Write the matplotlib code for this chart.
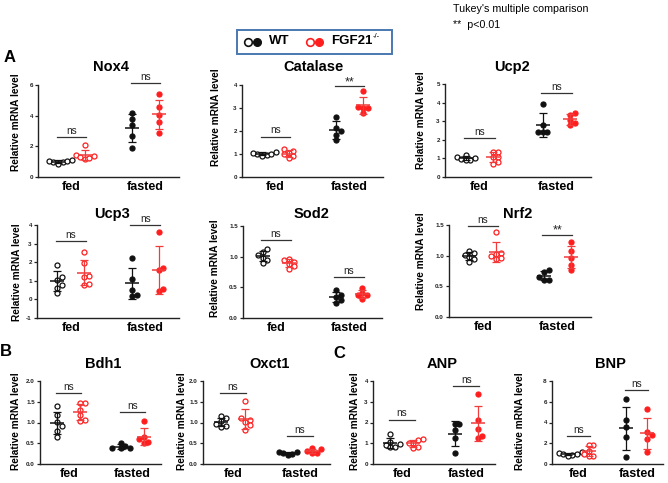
import numpy as np
import matplotlib.pyplot as plt
from matplotlib.patches import Rectangle

W, H = 668, 483
FONT = 'Liberation Sans'

# ---- data (relative mRNA level), fed = open circles, fasted = filled ----
nox4_wt_fed = [0.95, 1.0, 1.05, 1.1, 0.85, 1.05]
nox4_ko_fed = [2.1, 1.45, 1.3, 1.2, 1.25, 1.35]
nox4_wt_fasted = [4.15, 3.8, 3.4, 2.7, 1.9]
nox4_ko_fasted = [5.39, 4.59, 4.04, 3.61, 2.9]

cat_wt_fed = [0.95, 1.0, 1.02, 1.05, 1.1, 0.93]
cat_ko_fed = [1.2, 1.15, 1.05, 0.9, 0.82, 1.0]
cat_wt_fasted = [2.63, 2.12, 1.98, 1.83, 1.62]
cat_ko_fasted = [3.74, 3.05, 3.0, 3.0, 2.77]

ucp2_wt_fed = [1.2, 1.1, 1.0, 0.95, 0.9, 0.9]
ucp2_ko_fed = [1.35, 1.33, 1.1, 1.05, 0.8, 0.72]
ucp2_wt_fasted = [3.92, 2.79, 2.43, 2.43, 2.43]
ucp2_ko_fasted = [3.42, 3.33, 3.06, 2.88, 2.79]

ucp3_wt_fed = [1.86, 1.23, 1.05, 0.79, 0.61, 0.34]
ucp3_ko_fed = [2.55, 1.95, 1.25, 1.2, 0.8, 0.85]
ucp3_wt_fasted = [2.25, 1.1, 0.48, 0.25, 0.2]
ucp3_ko_fasted = [3.6, 1.71, 1.6, 0.55, 0.43]

sod2_wt_fed = [1.13, 1.07, 1.02, 0.98, 0.95, 0.9]
sod2_ko_fed = [0.96, 0.95, 0.92, 0.88, 0.84, 0.8]
sod2_wt_fasted = [0.46, 0.38, 0.34, 0.3, 0.25]
sod2_ko_fasted = [0.49, 0.41, 0.38, 0.38, 0.31]

nrf2_wt_fed = [1.07, 1.04, 1.01, 0.985, 0.94, 0.9]
nrf2_ko_fed = [1.38, 1.05, 1.03, 1.0, 0.97, 0.95]
nrf2_wt_fasted = [0.76, 0.74, 0.66, 0.61, 0.61]
nrf2_ko_fasted = [1.23, 1.08, 0.97, 0.85, 0.77]

bdh1_wt_fed = [1.4, 1.18, 1.02, 0.91, 0.8, 0.64]
bdh1_ko_fed = [1.47, 1.46, 1.3, 1.18, 1.06, 1.04]
bdh1_wt_fasted = [0.51, 0.43, 0.38, 0.38, 0.38]
bdh1_ko_fasted = [1.03, 0.66, 0.6, 0.52, 0.5]

oxct1_wt_fed = [1.15, 1.1, 1.03, 0.97, 0.92, 0.88]
oxct1_ko_fed = [1.51, 1.12, 1.07, 1.02, 0.94, 0.83]
oxct1_wt_fasted = [0.3, 0.28, 0.27, 0.25, 0.22]
oxct1_ko_fasted = [0.38, 0.35, 0.32, 0.26, 0.26]

anp_wt_fed = [1.44, 1.07, 0.96, 0.9, 0.8, 0.82]
anp_ko_fed = [1.2, 1.18, 1.02, 1.0, 0.83, 0.75]
anp_wt_fasted = [1.95, 1.95, 1.66, 1.23, 0.51]
anp_ko_fasted = [3.36, 2.1, 1.7, 1.35, 1.25]

bnp_wt_fed = [1.18, 1.02, 1.0, 0.96, 0.86, 0.77]
bnp_ko_fed = [1.85, 1.8, 1.3, 0.95, 0.8, 0.75]
bnp_wt_fasted = [6.24, 4.22, 3.52, 2.62, 0.64]
bnp_ko_fasted = [5.3, 3.1, 2.8, 2.4, 1.2]

categories = ['fed', 'fasted']

# significance: label and bar height for fed / fasted comparisons
nox4_sig, nox4_bar = ['ns', 'ns'], [2.6, 6.1]
cat_sig, cat_bar = ['ns', '**'], [1.76, 3.96]
ucp2_sig, ucp2_bar = ['ns', 'ns'], [2.07, 4.5]
ucp3_sig, ucp3_bar = ['ns', 'ns'], [3.16, 4.0]
sod2_sig, sod2_bar = ['ns', 'ns'], [1.27, 0.67]
nrf2_sig, nrf2_bar = ['ns', '**'], [1.48, 1.34]
bdh1_sig, bdh1_bar = ['ns', 'ns'], [1.71, 1.26]
oxct1_sig, oxct1_bar = ['ns', 'ns'], [1.72, 0.68]
anp_sig, anp_bar = ['ns', 'ns'], [2.14, 3.76]
bnp_sig, bnp_bar = ['ns', 'ns'], [2.69, 7.1]

BLACK = '#111111'
RED = '#ff1e1e'
RED_BAR = '#f03c3c'

# title, groups, sig, bars, yticks, fmt, rect px (l, t, r, b), title pos, ylabel pos
panels = [
    ('Nox4', [nox4_wt_fed, nox4_ko_fed, nox4_wt_fasted, nox4_ko_fasted], nox4_sig, nox4_bar,
     [0, 2, 4, 6], '%d', (38, 85, 179, 177), (111, 67), (16, 122)),
    ('Catalase', [cat_wt_fed, cat_ko_fed, cat_wt_fasted, cat_ko_fasted], cat_sig, cat_bar,
     [0, 1, 2, 3, 4], '%d', (242, 85, 383, 177), (313, 67), (216, 117)),
    ('Ucp2', [ucp2_wt_fed, ucp2_ko_fed, ucp2_wt_fasted, ucp2_ko_fasted], ucp2_sig, ucp2_bar,
     [0, 1, 2, 3, 4, 5], '%d', (445, 84, 591, 177), (512, 67), (421, 120)),
    ('Ucp3', [ucp3_wt_fed, ucp3_ko_fed, ucp3_wt_fasted, ucp3_ko_fasted], ucp3_sig, ucp3_bar,
     [-1, 0, 1, 2, 3, 4], '%d', (37, 225, 179, 318), (112, 214), (17, 272)),
    ('Sod2', [sod2_wt_fed, sod2_ko_fed, sod2_wt_fasted, sod2_ko_fasted], sod2_sig, sod2_bar,
     [0, 0.5, 1.0, 1.5], '%.1f', (243, 226, 382, 318), (312, 214), (215, 268)),
    ('Nrf2', [nrf2_wt_fed, nrf2_ko_fed, nrf2_wt_fasted, nrf2_ko_fasted], nrf2_sig, nrf2_bar,
     [0, 0.5, 1.0, 1.5], '%.1f', (449, 225, 591, 317), (518, 214), (421, 261)),
    ('Bdh1', [bdh1_wt_fed, bdh1_ko_fed, bdh1_wt_fasted, bdh1_ko_fasted], bdh1_sig, bdh1_bar,
     [0, 0.5, 1.0, 1.5, 2.0], '%.1f', (40, 381, 161, 464), (103, 364), (16, 421)),
    ('Oxct1', [oxct1_wt_fed, oxct1_ko_fed, oxct1_wt_fasted, oxct1_ko_fasted], oxct1_sig, oxct1_bar,
     [0, 0.5, 1.0, 1.5, 2.0], '%.1f', (203, 381, 330, 464), (270, 364), (182, 421)),
    ('ANP', [anp_wt_fed, anp_ko_fed, anp_wt_fasted, anp_ko_fasted], anp_sig, anp_bar,
     [0, 1, 2, 3, 4], '%d', (373, 381, 495, 464), (442, 364), (355, 421)),
    ('BNP', [bnp_wt_fed, bnp_ko_fed, bnp_wt_fasted, bnp_ko_fasted], bnp_sig, bnp_bar,
     [0, 2, 4, 6, 8], '%d', (552, 381, 663, 464), (610, 364), (520, 421)),
]

OFF = 0.18
XLIM = (-0.45, 1.45)


def swarm_x(ax, xc, values, diam=4.6):
    pts = ax.transData.transform(np.column_stack([np.full(len(values), xc), values]))
    xpix, ypix = pts[0, 0], pts[:, 1]
    placed = []
    xs = np.zeros(len(values))
    for i in np.argsort(ypix):
        for k in [0, 1, -1, 2, -2, 3, -3, 4, -4]:
            x = xpix + k * diam
            if all((x - px) ** 2 + (ypix[i] - py) ** 2 >= diam ** 2 for px, py in placed):
                break
        placed.append((x, ypix[i]))
        xs[i] = x
    back = ax.transData.inverted().transform(np.column_stack([xs, ypix]))
    return back[:, 0]


def fx(x):
    return x / W


def fy(y):
    return 1 - y / H


fig = plt.figure(figsize=(W / 100, H / 100), dpi=100)

for title, groups, sig, bars, yticks, fmt, rect, tpos, lpos in panels:
    l, t, r, b = rect
    ax = fig.add_axes([fx(l), fy(b), (r - l) / W, (b - t) / H])
    ax.set_xlim(*XLIM)
    ax.set_ylim(yticks[0], yticks[-1])
    ppu = (r - l) / (XLIM[1] - XLIM[0])
    mean_hw = 7.0 / ppu

    for gi, vals in enumerate(groups):
        cat = gi // 2
        x0 = cat + (OFF if gi % 2 else -OFF)
        col = RED if gi % 2 else BLACK
        ecol = RED_BAR if gi % 2 else BLACK
        xs = swarm_x(ax, x0, vals)
        ax.plot(xs, vals, 'o', ls='none', ms=3.6,
                mfc=col if cat == 1 else 'white', mec=col, mew=0.9, zorder=3)
        m = np.mean(vals)
        s = np.std(vals, ddof=1)
        ax.errorbar(x0, m, yerr=s, fmt='none', ecolor=ecol, elinewidth=0.9,
                    capsize=2.9, capthick=0.9, zorder=4)
        ax.hlines(m, x0 - mean_hw, x0 + mean_hw, color=ecol, lw=1.1, zorder=4)

    for cat in range(2):
        h = bars[cat]
        ax.plot([cat - OFF - 0.02, cat + OFF + 0.02], [h, h], color='#333333', lw=0.9,
                clip_on=False, zorder=5)
        star = sig[cat] == '**'
        ax.annotate(sig[cat], (cat, h), xytext=(0, -1.5 if star else 0.8),
                    textcoords='offset points', ha='center', va='bottom',
                    fontsize=9 if star else 7.2, family=FONT,
                    color='#222222', annotation_clip=False)

    for side in ['top', 'right']:
        ax.spines[side].set_visible(False)
    for side in ['left', 'bottom']:
        ax.spines[side].set_linewidth(1.0)
        ax.spines[side].set_color('#222222')
    ax.set_yticks(yticks)
    ax.set_yticklabels([fmt % v for v in yticks], fontsize=4.5, fontweight='bold',
                       family=FONT)
    ax.tick_params(axis='y', length=2.5, width=0.9, pad=1.2, colors='#222222')
    ax.set_xticks([0, 1])
    ax.set_xticklabels(categories, fontsize=9, fontweight='bold', family=FONT)
    ax.tick_params(axis='x', length=0, pad=3)
    ax.set_facecolor('none')

    fig.text(fx(tpos[0]), fy(tpos[1]), title, ha='center', va='center', fontsize=10.5,
             fontweight='bold', family=FONT)
    fig.text(fx(lpos[0]), fy(lpos[1]), 'Relative mRNA level', ha='center', va='center',
             rotation=90, fontsize=7.3, fontweight='bold', family=FONT)

# overlay in pixel coordinates for legend and notes
ov = fig.add_axes([0, 0, 1, 1])
ov.set_xlim(0, W)
ov.set_ylim(H, 0)
ov.axis('off')
ov.set_facecolor('none')

ov.add_patch(Rectangle((237, 30), 155, 24, fill=False, ec='#4a78b0', lw=1.4))
ov.plot([248], [41.5], 'o', ms=5.5, mfc='white', mec=BLACK, mew=1.2)
ov.plot([257], [41.5], 'o', ms=5.5, mfc=BLACK, mec=BLACK)
ov.text(269, 41.5, 'WT', ha='left', va='center', fontsize=9.5, fontweight='bold', family=FONT)
ov.plot([310], [41.5], 'o', ms=5.5, mfc='white', mec=RED, mew=1.2)
ov.plot([319], [41.5], 'o', ms=5.5, mfc=RED, mec=RED)
ov.text(331, 41.5, 'FGF21', ha='left', va='center', fontsize=9.5, fontweight='bold', family=FONT)
ov.text(373, 36, '-/-', ha='left', va='center', fontsize=5.5, family=FONT)

ov.text(453, 9, "Tukey's multiple comparison", ha='left', va='center', fontsize=7.7, family=FONT)
ov.text(453, 25, '**  p<0.01', ha='left', va='center', fontsize=7.7, family=FONT)

ov.text(10, 58, 'A', ha='center', va='center', fontsize=12, fontweight='bold', family=FONT)
ov.text(6, 351, 'B', ha='center', va='center', fontsize=12, fontweight='bold', family=FONT)
ov.text(339, 354, 'C', ha='center', va='center', fontsize=12, fontweight='bold', family=FONT)

fig.savefig('out.png', dpi=100)
